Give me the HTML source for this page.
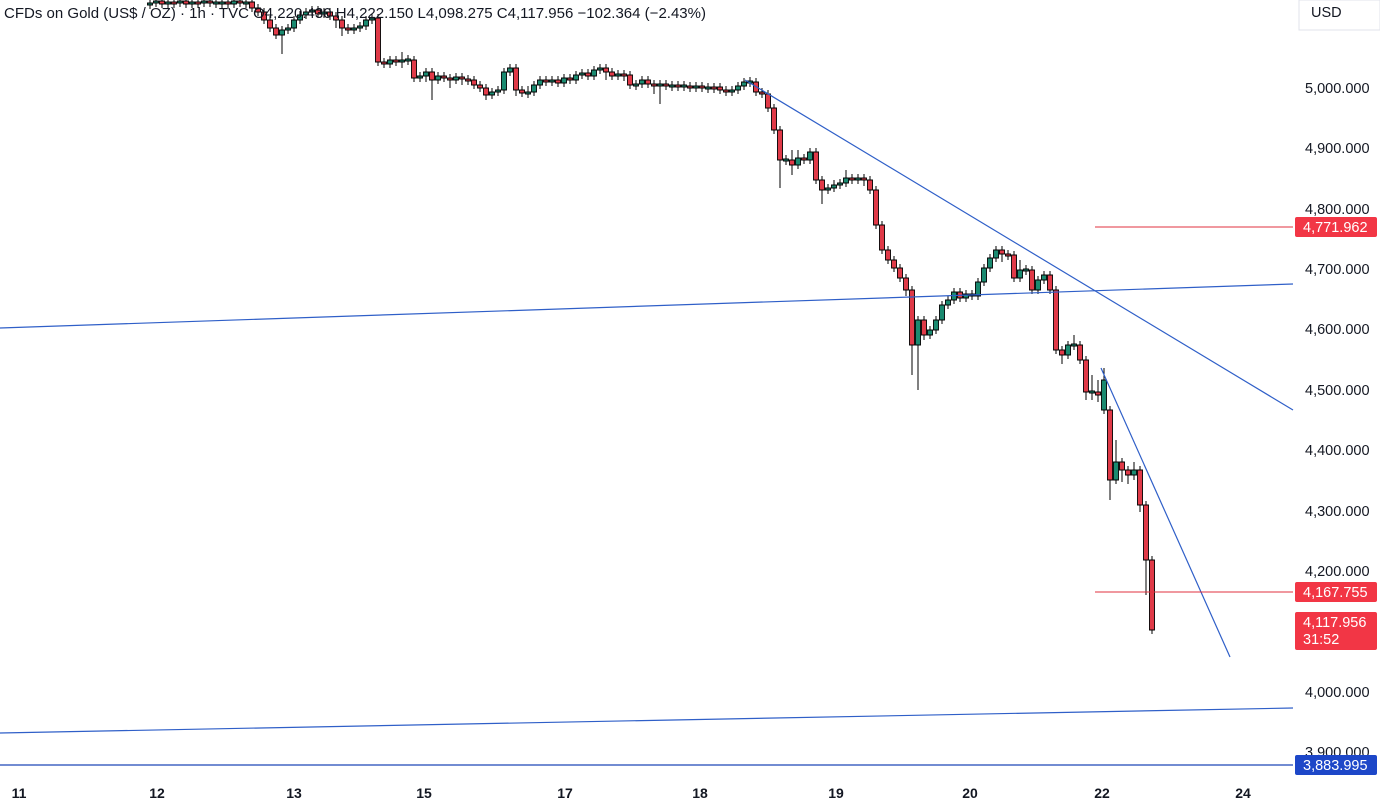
<!DOCTYPE html>
<html><head><meta charset="utf-8"><style>
html,body{margin:0;padding:0;background:#fff;width:1380px;height:804px;overflow:hidden;font-family:"Liberation Sans",sans-serif}
svg{position:absolute;left:0;top:0}
</style></head><body>
<svg width="1380" height="804" xmlns="http://www.w3.org/2000/svg">
<path stroke="#000" stroke-width="1" fill="none" d="
M150 0V9M156 0V7M162 0V8M168 0V8M174 0V8M180 0V7M186 0V8M192 0V8M198 0V8M204 0V7M210 0V7M216 0V8M222 0V8M228 0V8M234 0V8M240 0V7M246 0V8M252 0V12M258 4V16M264 8V24M270 16V32M276 24V39M282 26V54M288 24V34M294 16V32M300 11V24M306 8V19M312 6V16M318 6V18M324 8V18M330 8V20M336 12V28M342 16V36M348 24V34M354 24V34M360 22V32M366 16V30M372 14V24M378 14V66M384 58V68M390 56V68M396 56V66M402 52V68M408 55V65M414 56V82M420 72V82M426 68V82M432 68V100M438 72V84M444 72V82M450 74V88M456 73V84M462 73V85M468 75V85M474 76V89M480 81V92M486 84V100M492 88V99M498 86V96M504 68V94M510 64V76M516 64V96M522 86V97M528 86V98M534 81V96M540 76V89M546 76V86M552 76V86M558 76V87M564 74V87M570 74V84M576 71V84M582 69V79M588 69V80M594 66V80M600 64V74M606 64V80M612 68V80M618 70V80M624 70V81M630 71V89M636 80V90M642 76V88M648 76V88M654 80V94M660 80V104M666 80V90M672 81V91M678 81V91M684 81V91M690 82V92M696 82V92M702 82V92M708 83V93M714 83V93M720 83V94M726 86V96M732 86V96M738 82V94M744 78V90M750 77V87M756 78V96M762 88V98M768 90V112M774 104V134M780 126V188M786 155V165M792 150V175M798 150V169M804 154V164M810 148V164M816 148V184M822 176V204M828 184V194M834 180V192M840 179V189M846 170V187M852 174V184M858 174V184M864 174V186M870 176V194M876 186V229M882 221V254M888 246V264M894 256V272M900 264V282M906 274V296M912 286V375M918 316V390M924 316V340M930 326V339M936 316V334M942 301V324M948 296V309M954 288V304M960 288V302M966 290V302M972 290V300M978 278V300M984 264V286M990 254V272M996 246V262M1002 246V262M1008 250V260M1014 251V282M1020 260V282M1026 265V275M1032 266V294M1038 276V294M1044 271V284M1050 271V294M1056 286V354M1062 346V364M1068 341V359M1074 335V350M1080 341V364M1086 356V400M1092 375V400M1098 380V402M1104 368V414M1110 406V500M1116 440V484M1122 458V482M1128 466V484M1134 462V480M1140 466V512M1146 501V595M1152 556V634"/>
<path fill="#e03a48" stroke="#000" stroke-width="0.9" d="
M159.5 1h5v3h-5zM171.5 2h5v2h-5zM183.5 1h5v3h-5zM195.5 2h5v2h-5zM207.5 1h5v2h-5zM225.5 2h5v2h-5zM237.5 1h5v2h-5zM249.5 2h5v6h-5zM255.5 8h5v4h-5zM261.5 12h5v8h-5zM267.5 20h5v8h-5zM273.5 28h5v7h-5zM315.5 10h5v4h-5zM327.5 12h5v4h-5zM333.5 16h5v4h-5zM339.5 20h5v8h-5zM345.5 28h5v2h-5zM375.5 18h5v44h-5zM381.5 62h5v2h-5zM393.5 60h5v2h-5zM411.5 60h5v18h-5zM429.5 72h5v8h-5zM441.5 76h5v2h-5zM447.5 78h5v2h-5zM459.5 77h5v2h-5zM465.5 79h5v2h-5zM471.5 80h5v5h-5zM477.5 85h5v3h-5zM483.5 88h5v7h-5zM513.5 68h5v22h-5zM519.5 90h5v3h-5zM543.5 80h5v2h-5zM555.5 80h5v3h-5zM567.5 78h5v2h-5zM585.5 73h5v3h-5zM603.5 68h5v4h-5zM609.5 72h5v4h-5zM621.5 74h5v2h-5zM627.5 75h5v10h-5zM645.5 80h5v4h-5zM651.5 84h5v2h-5zM663.5 84h5v2h-5zM675.5 85h5v2h-5zM687.5 86h5v2h-5zM699.5 86h5v2h-5zM711.5 87h5v2h-5zM717.5 87h5v3h-5zM723.5 90h5v2h-5zM753.5 82h5v10h-5zM759.5 92h5v2h-5zM765.5 94h5v14h-5zM771.5 108h5v22h-5zM777.5 130h5v30h-5zM789.5 160h5v5h-5zM801.5 158h5v2h-5zM813.5 152h5v28h-5zM819.5 180h5v10h-5zM849.5 178h5v2h-5zM861.5 178h5v2h-5zM867.5 180h5v10h-5zM873.5 190h5v35h-5zM879.5 225h5v25h-5zM885.5 250h5v10h-5zM891.5 260h5v8h-5zM897.5 268h5v10h-5zM903.5 278h5v12h-5zM909.5 290h5v55h-5zM921.5 320h5v15h-5zM957.5 292h5v6h-5zM969.5 294h5v2h-5zM999.5 250h5v4h-5zM1005.5 254h5v2h-5zM1011.5 255h5v23h-5zM1029.5 270h5v20h-5zM1047.5 275h5v15h-5zM1053.5 290h5v60h-5zM1059.5 350h5v5h-5zM1077.5 345h5v15h-5zM1083.5 360h5v32h-5zM1095.5 392h5v3h-5zM1107.5 410h5v70h-5zM1119.5 462h5v8h-5zM1125.5 470h5v5h-5zM1137.5 470h5v35h-5zM1143.5 505h5v55h-5zM1149.5 560h5v70h-5z"/>
<path fill="#1a8a70" stroke="#000" stroke-width="0.9" d="
M147.5 3h5v2h-5zM153.5 1h5v2h-5zM165.5 2h5v2h-5zM177.5 1h5v2h-5zM189.5 2h5v2h-5zM201.5 1h5v2h-5zM213.5 2h5v2h-5zM219.5 2h5v2h-5zM231.5 1h5v3h-5zM243.5 2h5v2h-5zM279.5 30h5v5h-5zM285.5 28h5v2h-5zM291.5 20h5v8h-5zM297.5 15h5v5h-5zM303.5 12h5v3h-5zM309.5 10h5v2h-5zM321.5 12h5v2h-5zM351.5 28h5v2h-5zM357.5 26h5v2h-5zM363.5 20h5v6h-5zM369.5 18h5v2h-5zM387.5 60h5v4h-5zM399.5 60h5v2h-5zM405.5 59h5v2h-5zM417.5 76h5v2h-5zM423.5 72h5v4h-5zM435.5 76h5v4h-5zM453.5 77h5v3h-5zM489.5 92h5v3h-5zM495.5 90h5v2h-5zM501.5 72h5v18h-5zM507.5 68h5v4h-5zM525.5 92h5v2h-5zM531.5 85h5v7h-5zM537.5 80h5v5h-5zM549.5 80h5v2h-5zM561.5 78h5v5h-5zM573.5 75h5v5h-5zM579.5 73h5v2h-5zM591.5 70h5v6h-5zM597.5 68h5v2h-5zM615.5 74h5v2h-5zM633.5 84h5v2h-5zM639.5 80h5v4h-5zM657.5 84h5v2h-5zM669.5 85h5v2h-5zM681.5 85h5v2h-5zM693.5 86h5v2h-5zM705.5 87h5v2h-5zM729.5 90h5v2h-5zM735.5 86h5v4h-5zM741.5 82h5v4h-5zM747.5 81h5v2h-5zM783.5 159h5v2h-5zM795.5 158h5v7h-5zM807.5 152h5v8h-5zM825.5 188h5v2h-5zM831.5 185h5v3h-5zM837.5 183h5v2h-5zM843.5 178h5v5h-5zM855.5 178h5v2h-5zM915.5 320h5v25h-5zM927.5 330h5v5h-5zM933.5 320h5v10h-5zM939.5 305h5v15h-5zM945.5 300h5v5h-5zM951.5 292h5v8h-5zM963.5 294h5v4h-5zM975.5 282h5v14h-5zM981.5 268h5v14h-5zM987.5 258h5v10h-5zM993.5 250h5v8h-5zM1017.5 270h5v8h-5zM1023.5 269h5v2h-5zM1035.5 280h5v10h-5zM1041.5 275h5v5h-5zM1065.5 345h5v10h-5zM1071.5 344h5v2h-5zM1089.5 391h5v2h-5zM1101.5 380h5v30h-5zM1113.5 462h5v18h-5zM1131.5 470h5v5h-5z"/>
<g stroke="#2f5fc8" stroke-width="1.2" fill="none">
<line x1="0" y1="328" x2="1293" y2="284"/>
<line x1="0" y1="733" x2="1293" y2="708"/>
<line x1="745" y1="80" x2="1293" y2="410"/>
<line x1="1101" y1="368" x2="1230" y2="657"/>
</g>
<line x1="0" y1="765" x2="1293" y2="765" stroke="#1d47b8" stroke-width="1.2"/>
<line x1="1095" y1="227" x2="1293" y2="227" stroke="#e0303f" stroke-width="1"/>
<line x1="1095" y1="592" x2="1293" y2="592" stroke="#e0303f" stroke-width="1"/>
<g font-size="14.5" fill="#131722">
<text x="1305" y="93">5,000.000</text>
<text x="1305" y="153">4,900.000</text>
<text x="1305" y="214">4,800.000</text>
<text x="1305" y="274">4,700.000</text>
<text x="1305" y="334">4,600.000</text>
<text x="1305" y="395">4,500.000</text>
<text x="1305" y="455">4,400.000</text>
<text x="1305" y="516">4,300.000</text>
<text x="1305" y="576">4,200.000</text>
<text x="1305" y="697">4,000.000</text>
<text x="1305" y="757">3,900.000</text>
<text x="1311" y="17">USD</text>
</g>
<rect x="1299" y="0" width="81" height="30" fill="none" stroke="#e0e3eb"/>
<rect x="1295" y="217" width="82" height="20" rx="2" fill="#f23645"/>
<text x="1303" y="232" font-size="14.5" fill="#fff">4,771.962</text>
<rect x="1295" y="582" width="82" height="20" rx="2" fill="#f23645"/>
<text x="1303" y="597" font-size="14.5" fill="#fff">4,167.755</text>
<rect x="1295" y="612" width="82" height="38" rx="2" fill="#f23645"/>
<text x="1303" y="627" font-size="14.5" fill="#fff">4,117.956</text>
<text x="1303" y="644" font-size="14.5" fill="#fff">31:52</text>
<rect x="1295" y="755" width="82" height="20" rx="2" fill="#1d47c8"/>
<text x="1303" y="770" font-size="14.5" fill="#fff">3,883.995</text>
<g font-size="14" font-weight="bold" fill="#131722" text-anchor="middle">
<text x="19" y="798">11</text><text x="157" y="798">12</text><text x="294" y="798">13</text>
<text x="424" y="798">15</text><text x="565" y="798">17</text><text x="700" y="798">18</text>
<text x="836" y="798">19</text><text x="970" y="798">20</text><text x="1102" y="798">22</text>
<text x="1243" y="798">24</text>
</g>
<text x="4" y="18" font-size="15" fill="#131722" textLength="702" lengthAdjust="spacingAndGlyphs">CFDs on Gold (US$ / OZ) · 1h · TVC  O4,220.430  H4,222.150  L4,098.275  C4,117.956  −102.364 (−2.43%)</text>
</svg>
</body></html>
